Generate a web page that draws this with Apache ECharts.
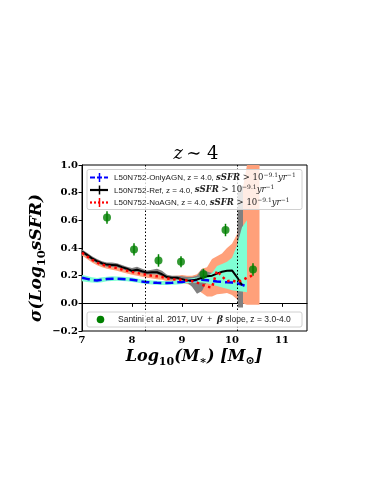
<!DOCTYPE html>
<html>
<head>
<meta charset="utf-8">
<script src="https://cdn.jsdelivr.net/npm/echarts@6/dist/echarts.min.js"></script>
<style>
  html, body { margin: 0; padding: 0; background: #fff; }
  #chart { width: 383px; height: 495px; }
</style>
</head>
<body>
<div id="chart"></div>
<script>
// stellar mass bins, Log10(M*)
const massGrid = [7.0, 7.1, 7.2, 7.3, 7.4, 7.5, 7.6, 7.7, 7.8, 7.9, 8.0, 8.1, 8.2, 8.3, 8.4, 8.5, 8.6, 8.7, 8.8, 8.9,
  9.0, 9.1, 9.2, 9.3, 9.4, 9.5, 9.6, 9.7, 9.8, 9.9, 10.0, 10.1, 10.2, 10.3, 10.4];

// sigma(log sSFR) per model
const sigmaOnlyAGN = [0.185, 0.177, 0.168, 0.165, 0.17, 0.176, 0.178, 0.178, 0.176, 0.174,
  0.17, 0.165, 0.158, 0.153, 0.15, 0.148, 0.147, 0.147, 0.148, 0.152,
  0.155, 0.16, 0.165, 0.168, 0.17, 0.167, 0.162, 0.158, 0.155, 0.152,
  0.15, 0.145, 0.135, 0.12, null];
const sigmaRef = [0.375, 0.35, 0.325, 0.305, 0.29, 0.28, 0.278, 0.275, 0.262, 0.25,
  0.235, 0.243, 0.232, 0.222, 0.225, 0.225, 0.21, 0.19, 0.185, 0.185,
  0.175, 0.165, 0.165, 0.172, 0.185, 0.195, 0.2, 0.215, 0.228, 0.235,
  0.238, 0.19, 0.13, null, null];
const sigmaNoAGN = [0.365, 0.34, 0.315, 0.295, 0.28, 0.27, 0.262, 0.255, 0.245, 0.235,
  0.227, 0.22, 0.212, 0.205, 0.2, 0.195, 0.19, 0.18, 0.175, 0.17,
  0.17, 0.165, 0.16, 0.15, 0.135, 0.12, 0.115, 0.235, 0.195, 0.16,
  0.165, 0.155, 0.165, 0.185, 0.2];

// shaded spread of each model
const refBandX = [7.0, 7.1, 7.2, 7.3, 7.4, 7.5, 7.6, 7.7, 7.8, 7.9, 8.0, 8.1, 8.2, 8.3, 8.4, 8.5, 8.6, 8.7, 8.8, 8.9,
  9.0, 9.1, 9.2, 9.3, 9.4, 9.5, 9.6, 9.7, 9.8, 9.9, 10.0, 10.1, 10.12, 10.22];
const refBandLo = [0.36, 0.335, 0.31, 0.29, 0.275, 0.265, 0.263, 0.26, 0.248, 0.236,
  0.222, 0.228, 0.218, 0.208, 0.21, 0.21, 0.195, 0.176, 0.17, 0.17,
  0.16, 0.15, 0.12, 0.07, 0.09, 0.16, 0.18, 0.195, 0.21, 0.218,
  0.22, 0.17, -0.03, -0.03];
const refBandHi = [0.39, 0.365, 0.34, 0.32, 0.305, 0.295, 0.295, 0.29, 0.278, 0.265,
  0.255, 0.265, 0.25, 0.238, 0.242, 0.25, 0.235, 0.206, 0.2, 0.2,
  0.195, 0.19, 0.19, 0.2, 0.25, 0.23, 0.22, 0.235, 0.245, 0.252,
  0.255, 0.21, 0.85, 0.85];

const onlyBandX = [7.0, 7.1, 7.2, 7.3, 7.4, 7.5, 7.6, 7.7, 7.8, 7.9, 8.0, 8.1, 8.2, 8.3, 8.4, 8.5, 8.6, 8.7, 8.8, 8.9,
  9.0, 9.1, 9.2, 9.3, 9.4, 9.5, 9.6, 9.7, 9.8, 9.9, 10.0, 10.1, 10.2, 10.3];
const onlyBandLo = [0.16, 0.155, 0.15, 0.148, 0.153, 0.16, 0.162, 0.163, 0.161, 0.159,
  0.155, 0.15, 0.143, 0.139, 0.136, 0.134, 0.133, 0.133, 0.134, 0.137,
  0.14, 0.145, 0.148, 0.15, 0.15, 0.145, 0.135, 0.125, 0.115, 0.105,
  0.095, 0.09, 0.085, 0.08];
const onlyBandHi = [0.205, 0.197, 0.188, 0.184, 0.188, 0.193, 0.195, 0.194, 0.192, 0.19,
  0.186, 0.18, 0.173, 0.168, 0.165, 0.163, 0.162, 0.162, 0.163, 0.167,
  0.17, 0.176, 0.182, 0.186, 0.19, 0.195, 0.22, 0.27, 0.285, 0.3,
  0.33, 0.42, 0.55, 0.6];

const noBandX = [7.0, 7.1, 7.2, 7.3, 7.4, 7.5, 7.6, 7.7, 7.8, 7.9, 8.0, 8.1, 8.2, 8.3, 8.4, 8.5, 8.6, 8.7, 8.8, 8.9,
  9.0, 9.1, 9.2, 9.3, 9.4, 9.5, 9.6, 9.7, 9.8, 9.9, 10.0, 10.1, 10.2, 10.3, 10.55];
const noBandLo = [0.345, 0.32, 0.295, 0.275, 0.26, 0.25, 0.242, 0.235, 0.225, 0.215,
  0.207, 0.2, 0.192, 0.185, 0.18, 0.175, 0.17, 0.16, 0.155, 0.15,
  0.148, 0.14, 0.13, 0.1, 0.075, 0.05, 0.05, 0.065, 0.07, 0.075,
  0.06, 0.03, 0.0, -0.01, -0.01];
const noBandHi = [0.385, 0.36, 0.335, 0.315, 0.3, 0.29, 0.282, 0.275, 0.265, 0.255,
  0.247, 0.24, 0.232, 0.225, 0.22, 0.215, 0.21, 0.2, 0.198, 0.2,
  0.205, 0.2, 0.2, 0.21, 0.25, 0.26, 0.32, 0.34, 0.36, 0.4,
  0.43, 0.5, 0.8, 1.1, 1.1];

// Santini et al. 2017 observations
const santiniX = [7.5, 8.04, 8.53, 8.98, 9.43, 9.87, 10.42];
const santiniY = [0.62, 0.39, 0.31, 0.30, 0.21, 0.53, 0.245];
const santiniErr = [0.045, 0.045, 0.045, 0.04, 0.04, 0.045, 0.045];

// vertical resolution limits
const cutX = [8.27, 10.1];

const pairs = (xs, ys) => xs.map((x, i) => [x, ys[i]]);

function bandSeries(xs, lo, hi, color, z) {
  return {
    type: 'custom',
    z: z,
    silent: true,
    clip: true,
    data: [[xs[0], lo[0]]],
    renderItem: function (params, api) {
      let pts = [];
      for (let i = 0; i < xs.length; i++) pts.push(api.coord([xs[i], hi[i]]));
      for (let i = xs.length - 1; i >= 0; i--) pts.push(api.coord([xs[i], lo[i]]));
      const cs = params.coordSys;
      pts = echarts.graphic.clipPointsByRect(pts, {x: cs.x, y: cs.y, width: cs.width, height: cs.height});
      return {type: 'polygon', shape: {points: pts}, style: {fill: color}};
    }
  };
}

const serif = '"DejaVu Serif", serif';
const sans = '"Liberation Sans", Arial, sans-serif';

const chart = echarts.init(document.getElementById('chart'));

// legend text: sans part + math part
function legendRich(label) {
  return '{t|' + label + '}{m|sSFR}{n| > 10}{s|−9.1}{i|yr}{s|−1}';
}
const legendRichStyle = {
  t: {fontFamily: sans, fontSize: 8, verticalAlign: 'bottom', padding: [0, 0, 1, 0]},
  m: {fontFamily: serif, fontSize: 8.5, fontWeight: 'bold', fontStyle: 'italic', verticalAlign: 'bottom', padding: [0, 0, 1, 0]},
  n: {fontFamily: serif, fontSize: 8.5, verticalAlign: 'bottom', padding: [0, 0, 1, 0]},
  s: {fontFamily: serif, fontSize: 6, verticalAlign: 'bottom', padding: [0, 0, 5, 0]},
  i: {fontFamily: serif, fontSize: 8.5, fontStyle: 'italic', verticalAlign: 'bottom', padding: [0, 0, 1, 0]}
};

const legendRows = [
  {y: 177.5, color: '#0000ff', dash: [5, 2], label: 'L50N752-OnlyAGN, z = 4.0, '},
  {y: 190, color: '#000000', dash: null, label: 'L50N752-Ref, z = 4.0, '},
  {y: 202.5, color: '#ff0000', dash: [2, 2], label: 'L50N752-NoAGN, z = 4.0, '}
];

const graphics = [
  {type: 'rect', z: 100, shape: {x: 87, y: 169.5, width: 215, height: 40, r: 2},
    style: {fill: 'rgba(255,255,255,0.8)', stroke: '#d0d0d0', lineWidth: 1}},
  {type: 'rect', z: 100, shape: {x: 87, y: 312, width: 215, height: 15, r: 2},
    style: {fill: 'rgba(255,255,255,0.8)', stroke: '#d0d0d0', lineWidth: 1}},
  {type: 'circle', z: 101, shape: {cx: 100.5, cy: 319.5, r: 3.8}, style: {fill: '#008000'}},
  {type: 'text', z: 101, x: 118, y: 319.5,
    style: {text: '{t|Santini et al. 2017, UV  +  }{b|β}{t| slope, z = 3.0-4.0}',
      rich: {t: {fontFamily: sans, fontSize: 8.5}, b: {fontFamily: serif, fontSize: 9, fontWeight: 'bold', fontStyle: 'italic'}},
      verticalAlign: 'middle', fill: '#222'}},
  // title
  {type: 'text', x: 196, y: 154,
    style: {text: '{i|z} {n|∼ 4}', rich: {i: {fontFamily: serif, fontStyle: 'italic', fontSize: 18}, n: {fontFamily: serif, fontSize: 18}},
      align: 'center', verticalAlign: 'middle', fill: '#000'}},
  // y axis name
  {type: 'text', x: 38, y: 258, rotation: Math.PI / 2,
    style: {text: '{a|σ(Log}{b|10}{a|sSFR)}',
      rich: {a: {fontFamily: serif, fontStyle: 'italic', fontWeight: 'bold', fontSize: 17, verticalAlign: 'bottom', padding: [0, 0, 3, 0]},
        b: {fontFamily: serif, fontWeight: 'bold', fontSize: 11.5, verticalAlign: 'bottom'}},
      align: 'center', verticalAlign: 'middle', fill: '#000'}},
  // x axis name
  {type: 'text', x: 194, y: 358,
    style: {text: '{a|Log}{b|10}{a|(M}{c|∗}{a|) [M}{c|⊙}{a|]}',
      rich: {a: {fontFamily: serif, fontStyle: 'italic', fontWeight: 'bold', fontSize: 16, verticalAlign: 'bottom', padding: [0, 0, 3, 0]},
        b: {fontFamily: serif, fontWeight: 'bold', fontSize: 11, verticalAlign: 'bottom'},
        c: {fontFamily: serif, fontWeight: 'bold', fontSize: 11, verticalAlign: 'bottom', padding: [0, 0, 1, 0]}},
      align: 'center', verticalAlign: 'middle', fill: '#000'}}
];

legendRows.forEach(function (r) {
  graphics.push({type: 'line', z: 101, shape: {x1: 90, y1: r.y, x2: 108, y2: r.y},
    style: {stroke: r.color, lineWidth: 2.2, lineDash: r.dash}});
  graphics.push({type: 'line', z: 101, shape: {x1: 99.5, y1: r.y - 4.5, x2: 99.5, y2: r.y + 4.5},
    style: {stroke: r.color, lineWidth: 1.5}});
  graphics.push({type: 'text', z: 101, x: 114, y: r.y,
    style: {text: legendRich(r.label), rich: legendRichStyle, verticalAlign: 'middle', fill: '#222'}});
});

const option = {
  animation: false,
  backgroundColor: '#ffffff',
  grid: {left: 82, right: 76, top: 165, bottom: 164, show: true, borderColor: '#000', borderWidth: 1},
  xAxis: {
    type: 'value', min: 7, max: 11.5, interval: 1,
    axisLine: {lineStyle: {color: '#000', width: 1}},
    axisTick: {length: 3.5, lineStyle: {color: '#000'}},
    axisLabel: {fontFamily: serif, fontSize: 10, fontWeight: 'bold', color: '#000', margin: 4,
      showMaxLabel: false},
    splitLine: {show: false}
  },
  yAxis: {
    type: 'value', min: -0.2, max: 1.0, interval: 0.2,
    axisLine: {show: true, lineStyle: {color: '#000', width: 1}},
    axisTick: {show: true, length: 3.5, lineStyle: {color: '#000'}},
    axisLabel: {fontFamily: serif, fontSize: 10, fontWeight: 'bold', color: '#000', margin: 4,
      formatter: v => (v < -1e-9 ? '−' : '') + Math.abs(v).toFixed(1)},
    splitLine: {show: false}
  },
  graphic: graphics,
  series: [
    bandSeries(noBandX, noBandLo, noBandHi, '#ffa07a', 1),
    bandSeries(refBandX, refBandLo, refBandHi, '#808080', 2),
    bandSeries(onlyBandX, onlyBandLo, onlyBandHi, '#7fffd4', 3),
    {
      type: 'line', z: 4, data: pairs(massGrid, sigmaOnlyAGN), showSymbol: false, symbol: 'none',
      lineStyle: {color: '#0000ff', width: 2.5, type: [8, 4]}
    },
    {
      type: 'line', z: 5, data: pairs(massGrid, sigmaRef), showSymbol: false, symbol: 'none',
      lineStyle: {color: '#000000', width: 2}
    },
    {
      type: 'line', z: 6, data: pairs(massGrid, sigmaNoAGN), showSymbol: false, symbol: 'none',
      lineStyle: {color: '#ff0000', width: 2.5, type: [2.5, 3.5]}
    },
    {
      type: 'custom', z: 7, silent: true,
      data: santiniX.map((x, i) => [x, santiniY[i], santiniErr[i]]),
      renderItem: function (params, api) {
        const x = api.value(0), y = api.value(1), e = api.value(2);
        const p1 = api.coord([x, y + e]), p2 = api.coord([x, y - e]);
        return {type: 'line', shape: {x1: p1[0], y1: p1[1], x2: p2[0], y2: p2[1]},
          style: {stroke: '#008000', lineWidth: 1.5}};
      }
    },
    {
      type: 'scatter', z: 8, data: pairs(santiniX, santiniY), symbolSize: 8,
      itemStyle: {color: '#008000'},
      markLine: {
        silent: true, symbol: 'none', label: {show: false},
        lineStyle: {color: '#000', width: 1, type: [1.5, 2]},
        data: cutX.map(x => ({xAxis: x}))
      }
    }
  ]
};

chart.setOption(option);
</script>
</body>
</html>
